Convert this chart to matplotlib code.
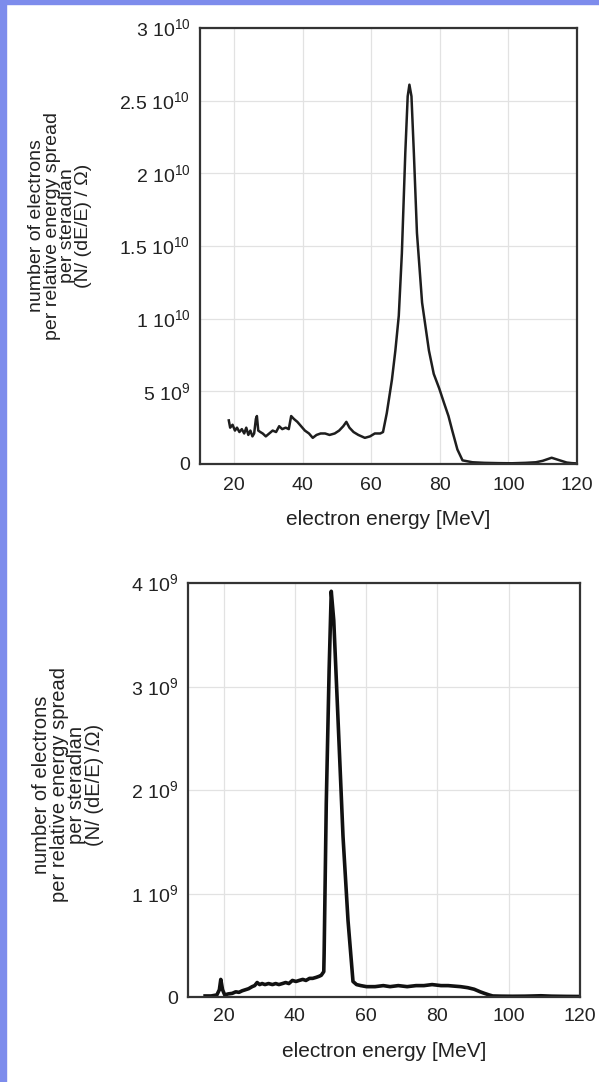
import matplotlib
matplotlib.use("Agg")
import matplotlib.pyplot as plt
from matplotlib.patches import Rectangle

plt.rcParams['font.family'] = ['Liberation Sans', 'DejaVu Sans']
plt.rcParams['mathtext.fontset'] = 'custom'
plt.rcParams['mathtext.rm'] = 'Liberation Sans'

# --- upper spectrum (units of 1e10) ---
e_top = [18.4, 18.8, 19.5, 20.2, 20.8, 21.5, 22.2, 22.9, 23.5, 24.1, 24.7, 25.3,
         25.8, 26.3, 26.6, 27.0, 27.6, 28.3, 29.2, 30.2, 31.2, 32.2, 33.1, 34.0,
         35.0, 35.9, 36.6, 37.4, 38.4, 39.5, 40.6, 41.8, 42.9, 44.0, 45.2, 46.5,
         47.8, 49.3, 50.6, 51.8, 52.7, 53.6, 54.8, 56.2, 58.1, 59.6, 61.0, 62.6,
         63.4, 64.5, 66.0, 67.0, 68.0, 68.9, 69.9, 70.6, 71.1, 71.7, 72.4, 73.3,
         74.8, 76.8, 78.2, 79.8, 81.2, 82.5, 83.6, 85.1, 86.6, 89.5, 93.0, 97.0,
         101.0, 105.0, 108.0, 110.0, 112.6, 115.0, 117.0, 118.5, 120.0]
v_top = [0.30, 0.25, 0.27, 0.23, 0.25, 0.22, 0.24, 0.21, 0.25, 0.20, 0.23, 0.19,
         0.21, 0.31, 0.33, 0.23, 0.22, 0.21, 0.19, 0.21, 0.23, 0.22, 0.26, 0.24,
         0.25, 0.24, 0.33, 0.31, 0.29, 0.26, 0.23, 0.21, 0.18, 0.20, 0.21, 0.21,
         0.20, 0.21, 0.23, 0.26, 0.29, 0.25, 0.22, 0.20, 0.18, 0.19, 0.21, 0.21,
         0.22, 0.35, 0.58, 0.78, 1.02, 1.45, 2.14, 2.53, 2.61, 2.53, 2.14, 1.59,
         1.11, 0.78, 0.62, 0.52, 0.42, 0.33, 0.23, 0.10, 0.025, 0.012, 0.008, 0.006,
         0.005, 0.008, 0.012, 0.022, 0.043, 0.025, 0.010, 0.006, 0.004]

# --- lower spectrum (units of 1e9) ---
e_bot = [14.8, 16.5, 18.1, 18.8, 19.2, 19.7, 20.3, 21.3, 22.4, 23.4, 24.3, 25.2,
         26.1, 27.0, 28.0, 28.7, 29.4, 30.1, 30.8, 31.6, 32.6, 33.7, 34.6, 35.5,
         36.5, 37.4, 38.3, 39.3, 40.3, 41.2, 42.2, 43.1, 44.1, 45.0, 46.0, 46.8,
         47.4, 48.1, 48.2, 48.8, 49.6, 50.2, 50.9, 52.1, 53.5, 54.9, 56.3, 57.3,
         58.5, 60.1, 62.5, 64.8, 66.7, 69.0, 71.5, 74.0, 76.2, 78.5, 81.0, 83.0,
         84.7, 86.5, 88.5, 90.3, 92.0, 93.2, 94.5, 95.5, 98.0, 101.0, 104.5, 107.0,
         109.0, 112.0, 116.0, 120.0]
v_bot = [0.01, 0.01, 0.02, 0.07, 0.17, 0.07, 0.02, 0.03, 0.035, 0.05, 0.045, 0.06,
         0.07, 0.08, 0.10, 0.11, 0.14, 0.12, 0.13, 0.12, 0.13, 0.12, 0.13, 0.12,
         0.13, 0.14, 0.13, 0.16, 0.15, 0.16, 0.17, 0.16, 0.18, 0.18, 0.19, 0.20,
         0.21, 0.245, 0.42, 1.87, 3.16, 3.92, 3.64, 2.68, 1.55, 0.74, 0.15, 0.12,
         0.11, 0.10, 0.10, 0.11, 0.10, 0.11, 0.10, 0.11, 0.11, 0.12, 0.11, 0.11,
         0.105, 0.10, 0.09, 0.075, 0.05, 0.035, 0.02, 0.01, 0.008, 0.007, 0.008, 0.01,
         0.012, 0.008, 0.006, 0.005]

top_ticks = [0, 0.5e10, 1e10, 1.5e10, 2e10, 2.5e10, 3e10]
top_labels = ['0', r'5 10$^{9}$', r'1 10$^{10}$', r'1.5 10$^{10}$', r'2 10$^{10}$',
              r'2.5 10$^{10}$', r'3 10$^{10}$']
bot_ticks = [0, 1e9, 2e9, 3e9, 4e9]
bot_labels = ['0', r'1 10$^{9}$', r'2 10$^{9}$', r'3 10$^{9}$', r'4 10$^{9}$']
x_ticks = [20, 40, 60, 80, 100, 120]

fig = plt.figure(figsize=(5.99, 10.82), dpi=100)
fig.patch.set_facecolor('white')

# blue frame strips of the page
fig.patches.append(Rectangle((0, 0), 6 / 599, 1, transform=fig.transFigure,
                             color='#7d8cec', zorder=0))
fig.patches.append(Rectangle((0, 1 - 4 / 1082), 1, 4 / 1082, transform=fig.transFigure,
                             color='#7d8cec', zorder=0))

ax1 = fig.add_axes([200 / 599, 1 - 464 / 1082, 377 / 599, 436 / 1082])
ax2 = fig.add_axes([188 / 599, 1 - 997 / 1082, 392 / 599, 414 / 1082])

ax1.plot(e_top, [v * 1e10 for v in v_top], color='#1e1e1e', lw=1.8)
ax2.plot(e_bot, [v * 1e9 for v in v_bot], color='#111111', lw=2.6)

for ax, ticks, labels, ymax, xpad in [(ax1, top_ticks, top_labels, 3e10, 9),
                                      (ax2, bot_ticks, bot_labels, 4e9, 8)]:
    ax.set_xlim(10, 120)
    ax.set_ylim(0, ymax)
    ax.set_xticks(x_ticks)
    ax.set_yticks(ticks)
    ax.set_yticklabels(labels)
    ax.tick_params(axis='both', length=0, labelsize=14, colors='#222222')
    ax.tick_params(axis='y', pad=7)
    ax.tick_params(axis='x', pad=xpad)
    ax.grid(True, color='#e2e2e2', lw=0.9)
    for s in ax.spines.values():
        s.set_linewidth(1.6)
        s.set_color('#333333')
    ax.set_xlabel('electron energy [MeV]', fontsize=15, color='#222222', labelpad=12)

ylab_top = 'number of electrons\nper relative energy spread\nper steradian\n(N/ (dE/E) / \u03a9)'
ylab_bot = 'number of electrons\nper relative energy spread\nper steradian\n(N/ (dE/E) /\u03a9)'
fig.text(60 / 599, 1 - 226 / 1082, ylab_top, rotation=90, ha='center', va='center',
         multialignment='center', fontsize=14, linespacing=0.88, color='#222222')
fig.text(68 / 599, 1 - 785 / 1082, ylab_bot, rotation=90, ha='center', va='center',
         multialignment='center', fontsize=14.5, linespacing=0.92, color='#222222')

plt.savefig('out.png', dpi=100)
plt.close()
